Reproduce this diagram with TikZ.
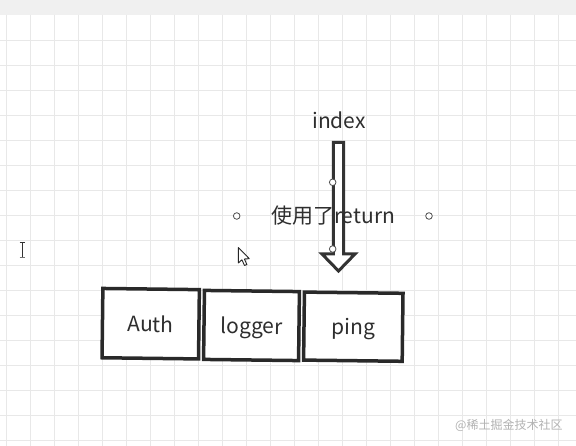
\documentclass[tikz,border=0pt]{standalone}
\usepackage{fontspec}
\setmainfont{Noto Sans CJK SC}
\begin{document}
\begin{tikzpicture}[x=1pt,y=-1pt,
  gridline/.style={draw=black!9, line width=0.9pt},
  lbl/.style={inner sep=0pt, font=\fontsize{21}{24}\selectfont, text=black!82},
  cellbox/.style={draw=black!84, line width=3.5pt, fill=white, inner sep=0pt, text depth=0pt,
    font=\fontsize{21}{24}\selectfont, text=black!82, rotate=-0.7},
  blockarrow/.style={draw=black!80, line width=3pt, fill=white, line join=miter},
  handle/.style={circle, draw=black!70, fill=white, line width=0.8pt, minimum size=6.6pt, inner sep=0pt},
  wmark/.style={inner sep=0pt, font=\fontsize{12}{14}\selectfont, text=black!30}]
\useasboundingbox (0,0) rectangle (576,446);
\fill[white] (0,0) rectangle (576,446);
% top band
\fill[black!6] (0,0) rectangle (576,15);
% grid
\foreach \k in {0,...,23} { \draw[gridline] ({6+24*\k},15) -- ({6+24*\k},446); }
\foreach \k in {1,...,17} { \draw[gridline] (0,{15.5+25*\k}) -- (576,{15.5+25*\k}); }
% block arrow
\coordinate (sTL) at (333.3,142.5);
\coordinate (sTR) at (343.5,142.5);
\coordinate (sBR) at (343.5,254);
\coordinate (hR) at (355,254);
\coordinate (tip) at (338.5,271);
\coordinate (hL) at (322,254);
\coordinate (sBL) at (333.3,254);
\draw[blockarrow] (sTL) -- (sTR) -- (sBR) -- (hR) -- (tip) -- (hL) -- (sBL) -- cycle;
% texts
\node[lbl] (index) at (339,120) {index};
\node[lbl] (ret) at (333,216) {使用了return};
% handles
\node[handle] (h1) at (332.7,182.3) {};
\node[handle] (h2) at (332.7,249) {};
\node[handle] (h3) at (236.7,216) {};
\node[handle] (h4) at (429,216) {};
% boxes
\node[cellbox, minimum width=96.5pt, minimum height=69.3pt] (auth) at (150.7,323.7) {Auth};
\node[cellbox, minimum width=95pt, minimum height=69pt] (logger) at (251.5,325.5) {logger};
\node[cellbox, minimum width=98.6pt, minimum height=68pt] (ping) at (353.3,326.7) {ping};
% mouse pointer
\draw[draw=black!85, fill=white, line width=0.9pt, line join=round]
  (238.3,247.5) -- ++(0,15.5) -- ++(3.6,-3.2) -- ++(2.6,5.7) -- ++(2.4,-1) -- ++(-2.5,-5.5) -- ++(4.9,-0.3) -- cycle;
% text cursor
\draw[black!80, line width=1.2pt] (22.3,243) -- (22.3,257);
\draw[black!80, line width=1.1pt] (19.5,242.6) -- (25.1,242.6);
\draw[black!55, line width=1.1pt] (19.5,257.6) -- (25.1,257.6);
% watermark
\node[wmark, anchor=west] (wm) at (455,425.5) {@稀土掘金技术社区};
\end{tikzpicture}
\end{document}
